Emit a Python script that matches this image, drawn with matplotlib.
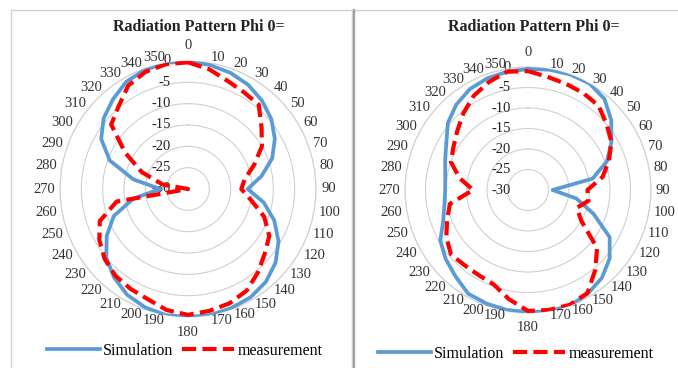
import matplotlib.pyplot as plt
import numpy as np
from matplotlib.patches import Rectangle
from matplotlib.lines import Line2D
from matplotlib.transforms import offset_copy

plt.rcParams['font.family'] = ['Liberation Serif', 'DejaVu Serif']

# angle categories (deg) and gain in dB
angles = [0, 10, 20, 30, 40, 50, 60, 70, 80, 90, 100, 110,
          120, 130, 140, 150, 160, 170, 180, 190, 200, 210, 220, 230,
          240, 250, 260, 270, 280, 290, 300, 310, 320, 330, 340, 350]

left_sim = [0, -0.5, -1, -1.8, -3, -4.5, -6.5, -9, -12.5, -16, -12, -8.5,
            -5.5, -3.2, -1.6, -0.7, -0.3, 0, 0, 0, -0.5, -1.4, -3, -5,
            -8, -11.5, -17, -23.5, -17, -10.5, -6.5, -4.2, -2.6, -1, -0.3, 0]
left_meas = [-0.3, -1.5, -3, -3.8, -4.2, -7.5, -10, -13.5, -16.5, -17.5, -15, -11,
             -8, -6.5, -4.5, -2.5, -1.5, -1, -0.5, -1.2, -2.5, -3, -3.5, -4.5,
             -6, -8, -13, -30, -24, -18.5, -13, -6.5, -4.7, -2, -0.8, -0.3]

right_sim = [-0.5, -0.2, 0, 0, -1, -3.5, -6.5, -9.5, -14, -24, -18, -13,
             -7, -4, -2, -0.8, 0, 0, -0.2, -0.3, -0.5, -0.8, -2.5, -3.8,
             -5.3, -8, -9.3, -9.8, -9.5, -8.5, -7, -4.5, -2.8, -1.6, -1, -0.7]
right_meas = [-1, -2, -2.5, -2.8, -3.2, -5, -6.5, -9, -11.5, -15.5, -15, -17.3,
              -15, -8, -4.5, -1, -0.2, -0.3, -0.5, -3, -5.5, -6, -6, -5.5,
              -7, -9, -10.7, -16.6, -13, -10, -9, -7.5, -5.5, -3.5, -2, -0.7]

r_ticks = [-30, -25, -20, -15, -10, -5, 0]
title = 'Radiation Pattern Phi 0='

W, H = 678, 368
fig = plt.figure(figsize=(W / 100, H / 100), dpi=100)

# panel frames
fig.add_artist(Rectangle((11 / W, -0.01), 341 / W, 1 - 10 / H + 0.01,
                         transform=fig.transFigure, fill=False, ec='#d0d0d0', lw=1))
fig.add_artist(Rectangle((354 / W, -0.01), 330 / W, 1 - 10 / H + 0.01,
                         transform=fig.transFigure, fill=False, ec='#d0d0d0', lw=1))
fig.add_artist(Line2D([354 / W, 354 / W], [0, 1 - 10 / H], transform=fig.transFigure,
                      color='#a0a0a0', lw=1.5))


def radar(cx, cy, R, sim, meas, title_x, leg_x, leg_y):
    ax = fig.add_axes([(cx - R) / W, (H - cy - R) / H, 2 * R / W, 2 * R / H],
                      projection='polar')
    ax.set_theta_zero_location('N')
    ax.set_theta_direction(-1)
    th = np.deg2rad(angles + [360])
    ax.plot(th, sim + sim[:1], color='#5b9bd5', lw=2.7, zorder=3,
            solid_joinstyle='round', label='Simulation')
    ax.plot(th, meas + meas[:1], color='#ff0000', lw=3, dashes=(3.4, 1.5),
            zorder=4, label='measurement')
    ax.set_ylim(r_ticks[0], r_ticks[-1])
    ax.set_yticks(r_ticks[1:])
    ax.set_yticklabels([])
    ax.set_xticks([])
    ax.yaxis.grid(True, color='#d0d0d0', lw=0.8)
    ax.spines['polar'].set_color('#d0d0d0')
    ax.spines['polar'].set_linewidth(0.8)

    # category labels round the rim
    for a in angles:
        t = np.deg2rad(a)
        if a == 0:
            ax.text(t, 2.0, str(a), ha='center', va='bottom', fontsize=10.5, color='#333333')
        elif a == 180:
            ax.text(t, 2.0, str(a), ha='center', va='top', fontsize=10.5, color='#333333')
        else:
            ha = 'left' if a < 180 else 'right'
            ax.text(t, 1.2, str(a), ha=ha, va='center', fontsize=10.5, color='#333333')

    # value labels next to the vertical axis
    trans = offset_copy(ax.transData, fig=fig, x=-17, y=0, units='dots')
    for v in r_ticks:
        ax.text(0, v, str(v), transform=trans, ha='right', va='center',
                fontsize=10.5, color='#222222', zorder=2)

    fig.text(title_x / W, 1 - 27 / H, title, ha='center', va='center',
             fontsize=11.5, fontweight='bold', color='#222222')
    ax.legend(loc='center', bbox_to_anchor=(leg_x / W, 1 - leg_y / H),
              bbox_transform=fig.transFigure, ncol=2, frameon=False,
              fontsize=11.5, handlelength=3.3, handletextpad=0.2, columnspacing=0.5)
    return ax


radar(188, 189, 128, left_sim, left_meas, 199, 185, 351)
radar(528, 190, 123, right_sim, right_meas, 534, 516, 354)

fig.savefig('out.png', dpi=100)
